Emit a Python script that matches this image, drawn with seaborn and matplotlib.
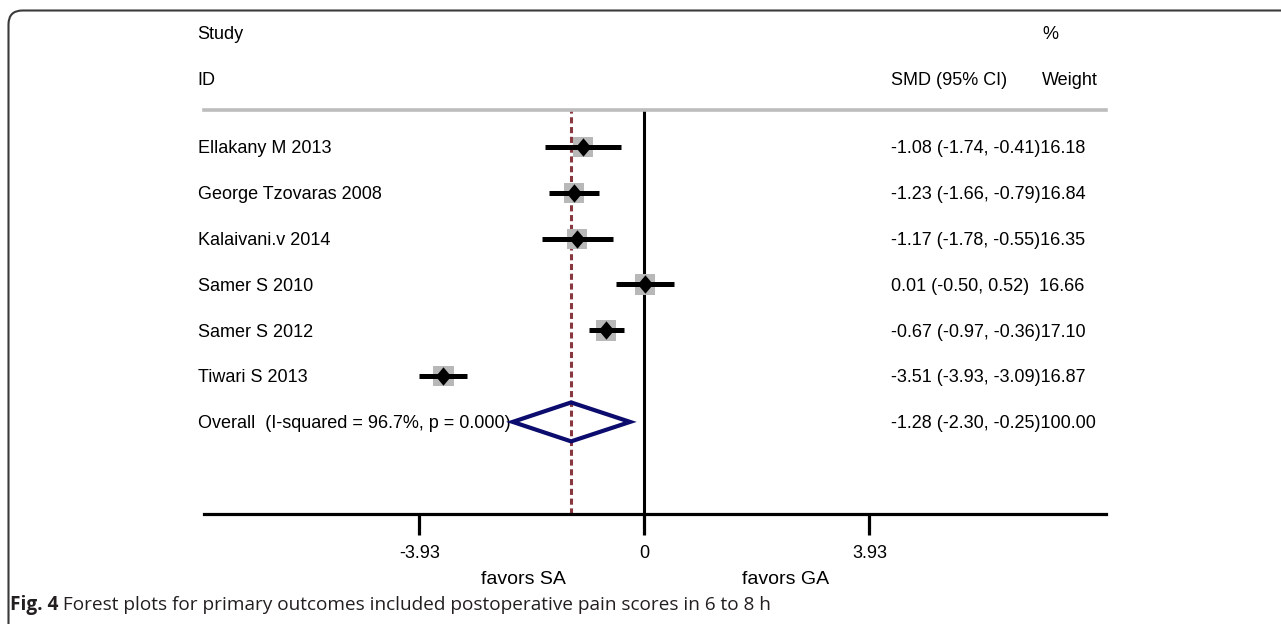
import numpy as np
import pandas as pd
import matplotlib
matplotlib.use("Agg")
import matplotlib.pyplot as plt
import seaborn as sns
from matplotlib.patches import Polygon, FancyBboxPatch
from matplotlib.transforms import IdentityTransform

# ---- study-level data -------------------------------------------------------
studies = ["Ellakany M 2013", "George Tzovaras 2008", "Kalaivani.v 2014",
           "Samer S 2010", "Samer S 2012", "Tiwari S 2013"]
smd = [-1.08, -1.23, -1.17, 0.01, -0.67, -3.51]
ci_low = [-1.74, -1.66, -1.78, -0.50, -0.97, -3.93]
ci_high = [-0.41, -0.79, -0.55, 0.52, -0.36, -3.09]
weights = [16.18, 16.84, 16.35, 16.66, 17.10, 16.87]

# ---- pooled estimate --------------------------------------------------------
overall_label = "Overall  (I-squared = 96.7%, p = 0.000)"
overall_smd = -1.28
overall_low = -2.30
overall_high = -0.25
overall_weight = 100.00

# ---- axis / annotation text -------------------------------------------------
tick_values = [-3.93, 0, 3.93]
tick_labels = ["-3.93", "0", "3.93"]
left_note = "favors SA"
right_note = "favors GA"
caption_bold = "Fig. 4"
caption_rest = " Forest plots for primary outcomes included postoperative pain scores in 6 to 8 h"


def effect_text(est, lo, hi, w):
    ci = f"{est:.2f} ({lo:.2f}, {hi:.2f})"
    return ci.ljust(20) + f"{w:.2f}"


sns.set_theme(style="white")
plt.rcParams["font.family"] = ["Liberation Sans", "DejaVu Sans"]
plt.rcParams["axes.unicode_minus"] = False

W, H = 1281, 624
fig = plt.figure(figsize=(W / 100, H / 100), dpi=100)
fig.patch.set_facecolor("white")
ax = fig.add_axes([204 / W, 1 - 514 / H, (1106 - 204) / W, (514 - 110) / H])
ax.set_facecolor("white")

n = len(studies)
df = pd.DataFrame({"study": studies, "smd": smd, "lo": ci_low, "hi": ci_high,
                   "weight": weights, "row": np.arange(n)})
overall_row = n

ax.set_xlim(-7.69, 8.06)
ax.set_ylim(8.01, -0.807)

FS = 13.0
DY = 0.04  # small downward nudge so text sits centred on its row

# reference lines
ax.axvline(0, color="black", lw=2.2, zorder=1)
ax.axvline(overall_smd, color="#8a3840", lw=2.2, ls=(0, (2.0, 1.2)), zorder=1)

# weight boxes (area proportional to weight)
sns.scatterplot(data=df, x="smd", y="row", size="weight", sizes=(0, 1290),
                size_norm=(0, 100), marker="s", color="#b8b8b8", linewidth=0,
                legend=False, ax=ax, zorder=2)

# confidence intervals
ax.hlines(df["row"], df["lo"], df["hi"], color="black", lw=3.6, zorder=3)

# point estimates
diamond = [(-0.42, 0), (0, 0.5), (0.42, 0), (0, -0.5)]
sns.scatterplot(data=df, x="smd", y="row", marker=diamond, s=175,
                color="black", linewidth=0, legend=False, ax=ax, zorder=4)

# pooled diamond
h = 0.425
ax.add_patch(Polygon([(overall_low, overall_row), (overall_smd, overall_row - h),
                      (overall_high, overall_row), (overall_smd, overall_row + h)],
                     closed=True, fill=False, edgecolor="#0c0c6e", lw=3.0,
                     joinstyle="miter", zorder=5))

# spines and ticks
for side in ("left", "right"):
    ax.spines[side].set_visible(False)
ax.spines["top"].set_color("#bdbdbd")
ax.spines["top"].set_linewidth(2.6)
ax.spines["bottom"].set_color("black")
ax.spines["bottom"].set_linewidth(2.3)
ax.set_xticks(tick_values, tick_labels)
ax.set_yticks([])
ax.tick_params(axis="x", bottom=True, direction="out", length=15, width=2.3,
               pad=7, labelsize=FS, colors="black")
ax.set_xlabel("")
ax.set_ylabel("")

# columns of text
x_name = -7.80
x_eff = 4.305
x_wt = 6.943
kw = dict(fontsize=FS, color="black", va="center", clip_on=False)
ax.text(x_name, -2.5 + DY, "Study", ha="left", **kw)
ax.text(x_name, -1.5 + DY, "ID", ha="left", **kw)
ax.text(x_eff, -1.5 + DY, "SMD (95% CI)", ha="left", **kw)
ax.text(x_wt, -2.5 + DY, "%", ha="left", **kw)
ax.text(x_wt, -1.5 + DY, "Weight", ha="left", **kw)

for r in df.itertuples():
    ax.text(x_name, r.row + DY, r.study, ha="left", **kw)
    ax.text(x_eff, r.row + DY, effect_text(r.smd, r.lo, r.hi, r.weight),
            ha="left", **kw)
ax.text(x_name, overall_row + DY, overall_label, ha="left", **kw)
ax.text(x_eff, overall_row + DY,
        effect_text(overall_smd, overall_low, overall_high, overall_weight),
        ha="left", **kw)

ax.text(-2.12, 9.43, left_note, ha="center", va="center", fontsize=14,
        color="black", clip_on=False)
ax.text(2.46, 9.43, right_note, ha="center", va="center", fontsize=14,
        color="black", clip_on=False)

# frame around the figure panel
fig.patches.append(FancyBboxPatch((8.5, -40), 1400, 624 - 10 - (-40) - 0.5,
                                  boxstyle="round,pad=0,rounding_size=14",
                                  transform=IdentityTransform(), fill=False,
                                  edgecolor="#3a3a3a", lw=1.5, figure=fig))

# caption
cap_font = ["Open Sans", "DejaVu Sans"]
cap_size = 13.7
cap_y = 1 - 605 / H
t1 = fig.text(10 / W, cap_y, caption_bold, fontsize=cap_size, fontweight="bold",
              family=cap_font, color="#231f20", va="center", ha="left")
renderer = fig.canvas.get_renderer()
bb = t1.get_window_extent(renderer)
fig.text(bb.x1 / W, cap_y, caption_rest, fontsize=cap_size, family=cap_font,
         color="#231f20", va="center", ha="left")

fig.savefig("out.png", dpi=100, facecolor="white")
